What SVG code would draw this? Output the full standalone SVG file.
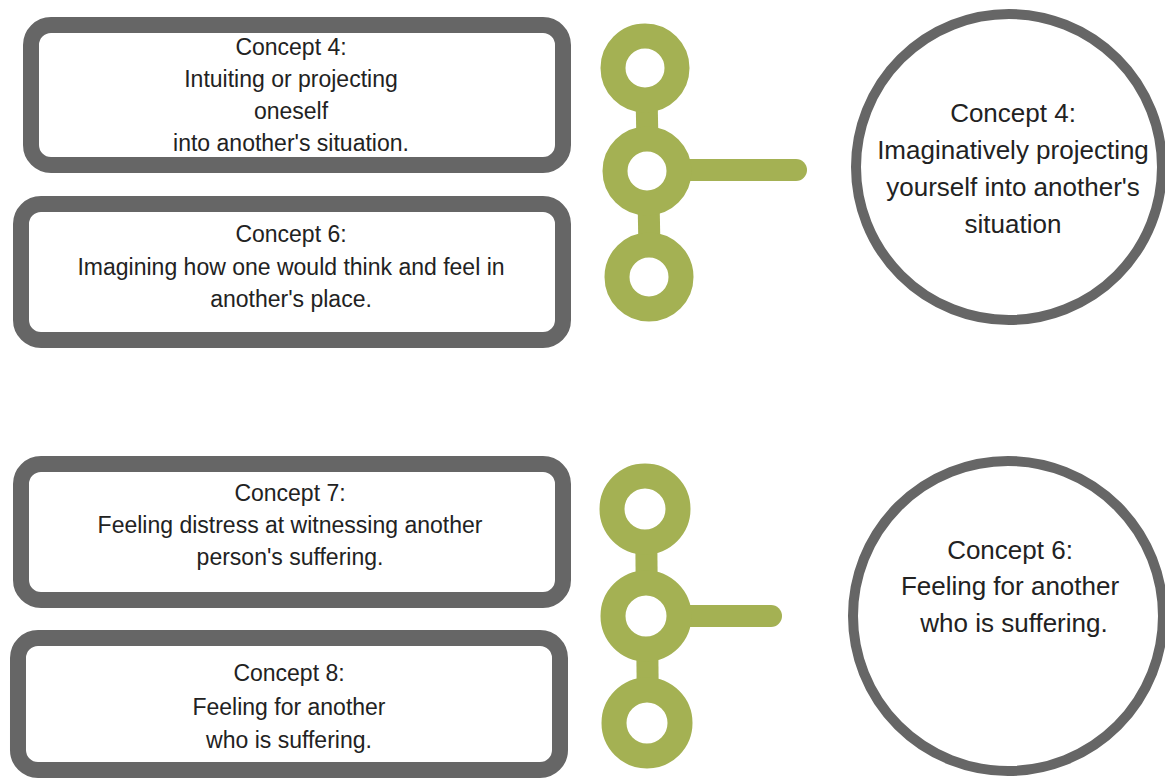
<svg xmlns="http://www.w3.org/2000/svg" width="1165" height="779" viewBox="0 0 1165 779">
<style>
.box{fill:#fff;stroke:#666;stroke-width:16}
.circ{fill:#fff;stroke:#666;stroke-width:10}
.t{font-family:"Liberation Sans",Arial,sans-serif;font-size:23px;fill:#222;text-anchor:middle}
.ct{font-family:"Liberation Sans",Arial,sans-serif;font-size:26px;fill:#222;text-anchor:middle}
.ring{fill:#fff;stroke:#a4b153;stroke-width:25}
.bar{stroke:#a4b153;stroke-width:22;stroke-linecap:round;fill:none}
.stem{stroke:#a4b153;stroke-width:22;fill:none}
</style>
<rect width="1165" height="779" fill="#fff"/>
<g id="connectors">
<line class="stem" x1="646" y1="68" x2="648" y2="170"/>
<line class="stem" x1="648" y1="170" x2="650" y2="277"/>
<line class="bar" x1="660" y1="170" x2="796" y2="170"/>
<circle class="ring" cx="645" cy="68" r="32"/>
<circle class="ring" cx="647" cy="171" r="32"/>
<circle class="ring" cx="649" cy="277" r="32"/>
<line class="stem" x1="646" y1="510" x2="647" y2="616"/>
<line class="stem" x1="647" y1="616" x2="648" y2="723"/>
<line class="bar" x1="660" y1="616" x2="771" y2="616"/>
<circle class="ring" cx="645" cy="509" r="33"/>
<circle class="ring" cx="646" cy="616" r="33"/>
<circle class="ring" cx="647" cy="723" r="33"/>
</g>
<g id="box1">
<rect class="box" x="31" y="25" width="532" height="140" rx="20"/>
<text class="t" x="291" y="55">Concept 4:</text>
<text class="t" x="291" y="87">Intuiting or projecting</text>
<text class="t" x="291" y="119">oneself</text>
<text class="t" x="291" y="151">into another's situation.</text>
</g>
<g id="box2">
<rect class="box" x="21" y="204" width="542" height="136" rx="20"/>
<text class="t" x="291" y="242">Concept 6:</text>
<text class="t" x="291" y="275">Imagining how one would think and feel in</text>
<text class="t" x="291" y="307">another's place.</text>
</g>
<g id="box3">
<rect class="box" x="21" y="464" width="542" height="136" rx="20"/>
<text class="t" x="290" y="501">Concept 7:</text>
<text class="t" x="290" y="533">Feeling distress at witnessing another</text>
<text class="t" x="290" y="565">person's suffering.</text>
</g>
<g id="box4">
<rect class="box" x="18" y="638" width="542" height="132" rx="20"/>
<text class="t" x="289" y="681">Concept 8:</text>
<text class="t" x="289" y="715">Feeling for another</text>
<text class="t" x="289" y="748">who is suffering.</text>
</g>
<g id="circle1">
<circle class="circ" cx="1009" cy="167" r="153"/>
<text class="ct" x="1013" y="122">Concept 4:</text>
<text class="ct" x="1013" y="159">Imaginatively projecting</text>
<text class="ct" x="1013" y="196">yourself into another's</text>
<text class="ct" x="1013" y="233">situation</text>
</g>
<g id="circle2">
<circle class="circ" cx="1008" cy="616" r="155"/>
<text class="ct" x="1010" y="559">Concept 6:</text>
<text class="ct" x="1010" y="595">Feeling for another</text>
<text class="ct" x="1014" y="632">who is suffering.</text>
</g>
</svg>
